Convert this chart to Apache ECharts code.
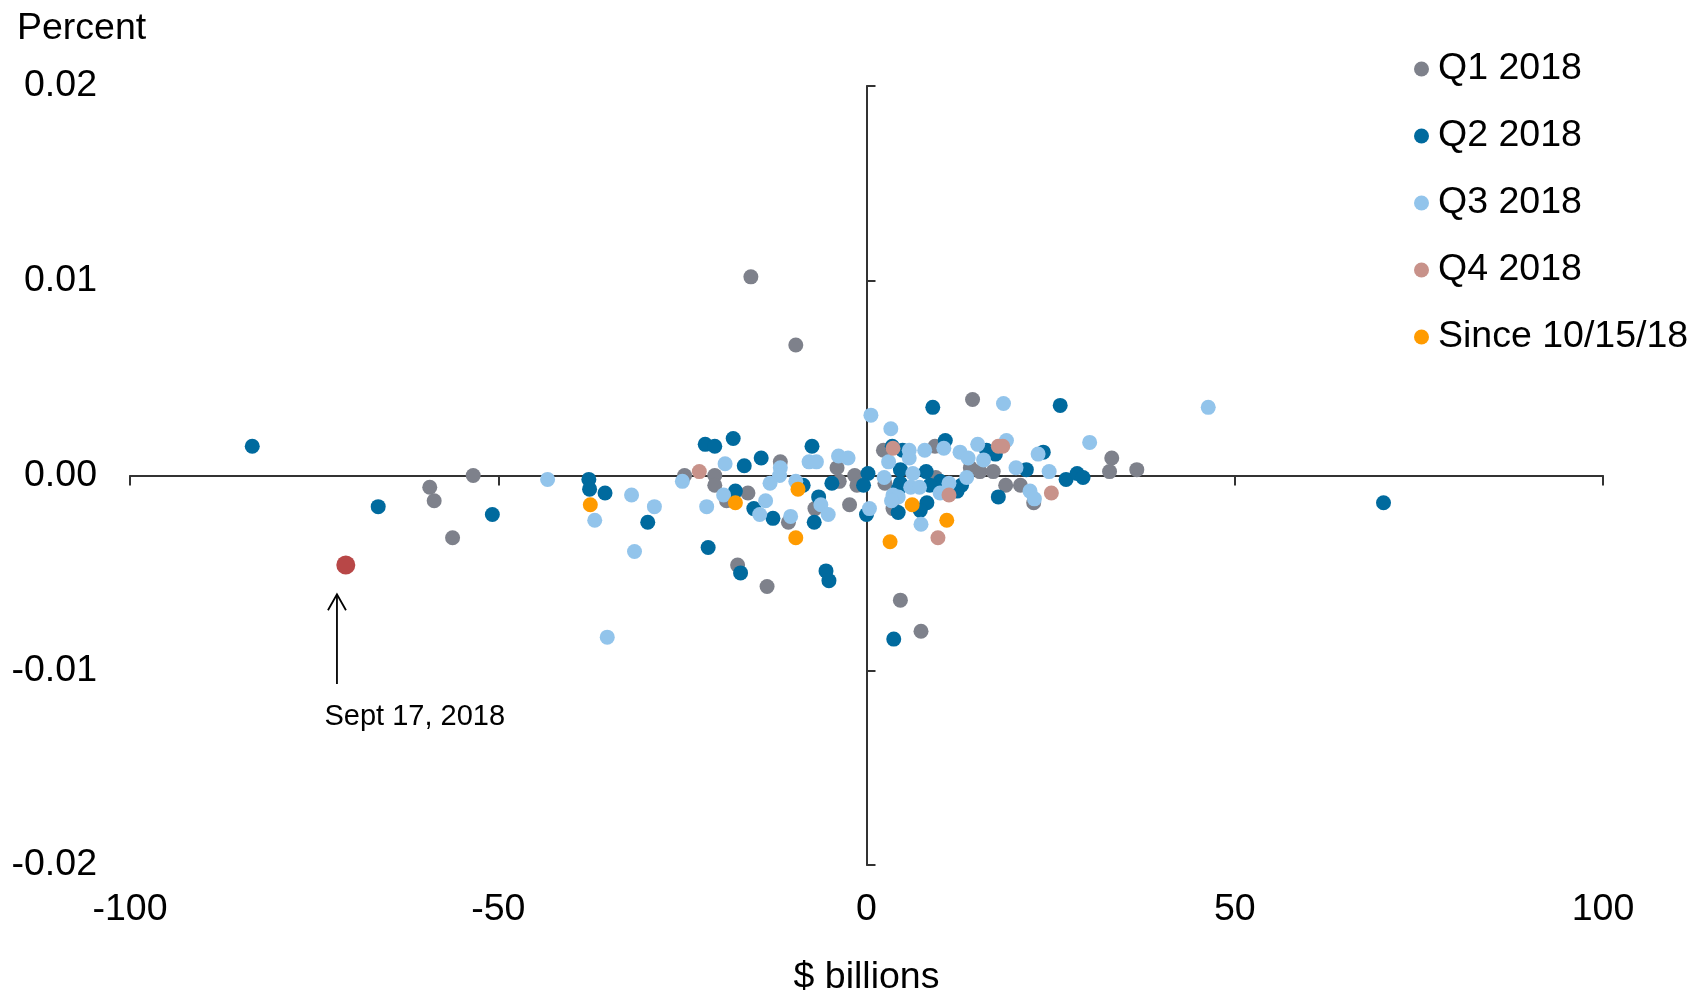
<!DOCTYPE html>
<html>
<head>
<meta charset="utf-8">
<script src="https://cdn.jsdelivr.net/npm/echarts@6/dist/echarts.min.js"></script>
<style>
  html, body { margin: 0; padding: 0; background: #fff; }
  #chart { width: 1689px; height: 994px; }
</style>
</head>
<body>
<div id="chart"></div>
<script>
// x: $ billions, y: percent
const xTicks = [-100, 100, 50]   // min, max, interval
const yTicks = [-0.02, 0.02, 0.01]

const q1 = [
  [-53.4, 0.0000], [-59.3, -0.0006], [-58.7, -0.0013], [-56.2, -0.0032], [-15.7, 0.0102],
  [-9.6, 0.0067], [-24.7, 0.0000], [-20.6, 0.0000], [-20.6, -0.0005], [-19.0, -0.0013],
  [-16.1, -0.0009], [-17.5, -0.0046], [-13.5, -0.0057], [-11.7, 0.0007], [-10.6, -0.0024],
  [-7.0, -0.0017], [-4.0, 0.0004], [-3.7, -0.0003], [-1.6, 0.0000], [-1.3, -0.0005],
  [-2.3, -0.0015], [4.6, -0.0064], [7.4, -0.0080], [14.4, 0.0039], [33.3, 0.0009],
  [33.0, 0.0002], [36.7, 0.0003], [9.3, 0.0015], [14.1, 0.0004], [15.4, 0.0002],
  [17.2, 0.0002], [18.9, -0.0005], [20.9, -0.0005], [22.7, -0.0014], [2.5, -0.0004],
  [3.6, -0.0017], [9.4, -0.0001], [2.3, 0.0013]
]

const q2 = [
  [-83.4, 0.0015], [-66.3, -0.0016], [-50.8, -0.0020], [-37.7, -0.0002], [-37.6, -0.0007],
  [-35.5, -0.0009], [-29.7, -0.0024], [-21.9, 0.0016], [-20.6, 0.0015], [-18.1, 0.0019],
  [-16.6, 0.0005], [-14.3, 0.0009], [-17.8, -0.0008], [-21.5, -0.0037], [-17.1, -0.0050],
  [-15.3, -0.0017], [-12.7, -0.0022], [-8.6, -0.0005], [-7.4, 0.0015], [-6.5, -0.0011],
  [-7.1, -0.0024], [-5.5, -0.0049], [-5.1, -0.0054], [-4.7, -0.0004], [0.2, 0.0001],
  [-0.4, -0.0005], [0.0, -0.0020], [3.7, -0.0084], [9.0, 0.0035], [26.3, 0.0036],
  [27.1, -0.0002], [28.6, 0.0001], [29.4, -0.0001], [10.7, 0.0018], [16.3, 0.0013],
  [17.5, 0.0011], [21.7, 0.0003], [24.0, 0.0012], [17.9, -0.0011], [4.6, 0.0003],
  [4.6, -0.0004], [4.3, -0.0007], [8.1, 0.0002], [10.0, -0.0003], [12.9, -0.0005],
  [8.6, -0.0005], [12.3, -0.0008], [4.3, -0.0019], [8.2, -0.0014], [7.3, -0.0018],
  [70.2, -0.0014], [4.9, 0.0013], [3.5, 0.0015]
]

const q3 = [
  [-43.3, -0.0002], [-36.9, -0.0023], [-31.9, -0.0010], [-28.8, -0.0016], [-31.5, -0.0039],
  [-35.2, -0.0083], [-25.0, -0.0003], [-19.2, 0.0006], [-19.4, -0.0010], [-21.7, -0.0016],
  [-11.7, 0.0004], [-11.8, 0.0000], [-13.1, -0.0004], [-13.7, -0.0013], [-14.5, -0.0020],
  [-10.3, -0.0021], [-9.6, -0.0003], [-7.8, 0.0007], [-6.8, 0.0007], [-6.2, -0.0015],
  [-5.2, -0.0020], [-3.8, 0.0010], [-2.5, 0.0009], [0.4, -0.0017], [0.6, 0.0031],
  [3.3, 0.0024], [18.6, 0.0037], [30.3, 0.0017], [46.4, 0.0035], [7.9, 0.0013],
  [5.8, 0.0013], [5.8, 0.0009], [3.0, 0.0007], [10.5, 0.0014], [12.7, 0.0012],
  [13.8, 0.0009], [15.1, 0.0016], [19.0, 0.0018], [15.9, 0.0008], [20.3, 0.0004],
  [23.3, 0.0011], [24.8, 0.0002], [22.2, -0.0008], [22.8, -0.0012], [2.4, -0.0001],
  [6.3, 0.0001], [11.2, -0.0004], [13.6, -0.0001], [6.0, -0.0006], [7.2, -0.0006],
  [10.0, -0.0009], [3.6, -0.0010], [4.3, -0.0011], [3.4, -0.0013], [7.4, -0.0025]
]

const q4 = [
  [-22.7, 0.0002], [3.6, 0.0014], [17.9, 0.0015], [18.5, 0.0015], [11.2, -0.0010],
  [25.1, -0.0009], [9.7, -0.0032]
]

const since = [
  [-37.5, -0.0015], [-17.8, -0.0014], [-9.3, -0.0007], [-9.6, -0.0032], [3.2, -0.0034],
  [6.2, -0.0015], [10.9, -0.0023]
]

const sept17 = [[-70.7, -0.0046]]

const seriesNames = ['Q1 2018', 'Q2 2018', 'Q3 2018', 'Q4 2018', 'Since 10/15/18']
const colors = ['#7e818b', '#006a9e', '#92c4eb', '#c8928a', '#ff9b00']

// annotation: arrow x, arrow tip y, arrow end y, label position
const annot = { x: -71.9, tipY: -0.0061, endY: -0.0107, textX: -73.6, textY: -0.0124, text: 'Sept 17, 2018' }

const font = 'Liberation Sans, Arial, sans-serif'
const fs = 37.5
const chart = echarts.init(document.getElementById('chart'))

const dataSets = [q1, q2, q3, q4, since]
const series = dataSets.map((d, i) => ({
  name: seriesNames[i],
  type: 'scatter',
  data: d,
  symbolSize: 15,
  itemStyle: { color: colors[i], opacity: 1 },
  silent: true
}))
series.push({
  name: 'Sept 17',
  type: 'scatter',
  data: sept17,
  symbolSize: 19,
  itemStyle: { color: '#b84747', opacity: 1 },
  silent: true
})

const option = {
  animation: false,
  textStyle: { fontFamily: font },
  title: {
    text: 'Percent',
    left: 12,
    top: 5,
    textStyle: { fontFamily: font, fontSize: fs, fontWeight: 'normal', color: '#000' }
  },
  legend: {
    data: seriesNames,
    orient: 'vertical',
    left: 1409,
    top: 44,
    icon: 'circle',
    itemWidth: 15,
    itemHeight: 15,
    itemGap: 27,
    textStyle: { fontFamily: font, fontSize: fs, color: '#000', lineHeight: 40, padding: [0, 0, 0, 4] }
  },
  grid: { left: 130, right: 86, top: 86, bottom: 129, outerBoundsMode: 'none' },
  xAxis: [
    {
      type: 'value',
      min: xTicks[0], max: xTicks[1], interval: xTicks[2],
      axisLine: { onZero: true, lineStyle: { color: '#333', width: 2 } },
      axisTick: { show: true, length: 10, lineStyle: { color: '#333', width: 2 } },
      axisLabel: { show: false },
      splitLine: { show: false }
    },
    {
      type: 'value',
      position: 'bottom',
      min: xTicks[0], max: xTicks[1], interval: xTicks[2],
      axisLine: { show: false, onZero: false },
      axisTick: { show: false },
      axisLabel: { fontFamily: font, fontSize: fs, color: '#000', margin: 26 },
      splitLine: { show: false },
      name: '$ billions',
      nameLocation: 'middle',
      nameGap: 94,
      nameTextStyle: { fontFamily: font, fontSize: fs, color: '#000' }
    }
  ],
  yAxis: [
    {
      type: 'value',
      min: yTicks[0], max: yTicks[1], interval: yTicks[2],
      axisLine: { show: true, onZero: true, onZeroAxisIndex: 0, lineStyle: { color: '#333', width: 2 } },
      axisTick: { show: true, inside: true, length: 9, lineStyle: { color: '#333', width: 2 } },
      axisLabel: { show: false },
      splitLine: { show: false }
    },
    {
      type: 'value',
      position: 'left',
      min: yTicks[0], max: yTicks[1], interval: yTicks[2],
      axisLine: { show: false, onZero: false },
      axisTick: { show: false },
      axisLabel: {
        fontFamily: font, fontSize: fs, color: '#000', margin: 33,
        formatter: (v) => v.toFixed(2)
      },
      splitLine: { show: false }
    }
  ],
  series: series
}

chart.setOption(option)

// arrow + label for Sept 17 point
const tip = chart.convertToPixel({ xAxisIndex: 0, yAxisIndex: 0 }, [annot.x, annot.tipY])
const end = chart.convertToPixel({ xAxisIndex: 0, yAxisIndex: 0 }, [annot.x, annot.endY])
const txt = chart.convertToPixel({ xAxisIndex: 0, yAxisIndex: 0 }, [annot.textX, annot.textY])
chart.setOption({
  graphic: [
    {
      type: 'line',
      shape: { x1: tip[0], y1: tip[1], x2: end[0], y2: end[1] },
      style: { stroke: '#000', lineWidth: 1.8 },
      silent: true
    },
    {
      type: 'polyline',
      shape: { points: [[tip[0] - 9, tip[1] + 16], [tip[0], tip[1]], [tip[0] + 9, tip[1] + 16]] },
      style: { stroke: '#000', lineWidth: 1.8, fill: null },
      silent: true
    },
    {
      type: 'text',
      x: txt[0],
      y: txt[1],
      style: { text: annot.text, font: '29px ' + font, fill: '#000', textVerticalAlign: 'middle' },
      silent: true
    }
  ]
})
</script>
</body>
</html>
